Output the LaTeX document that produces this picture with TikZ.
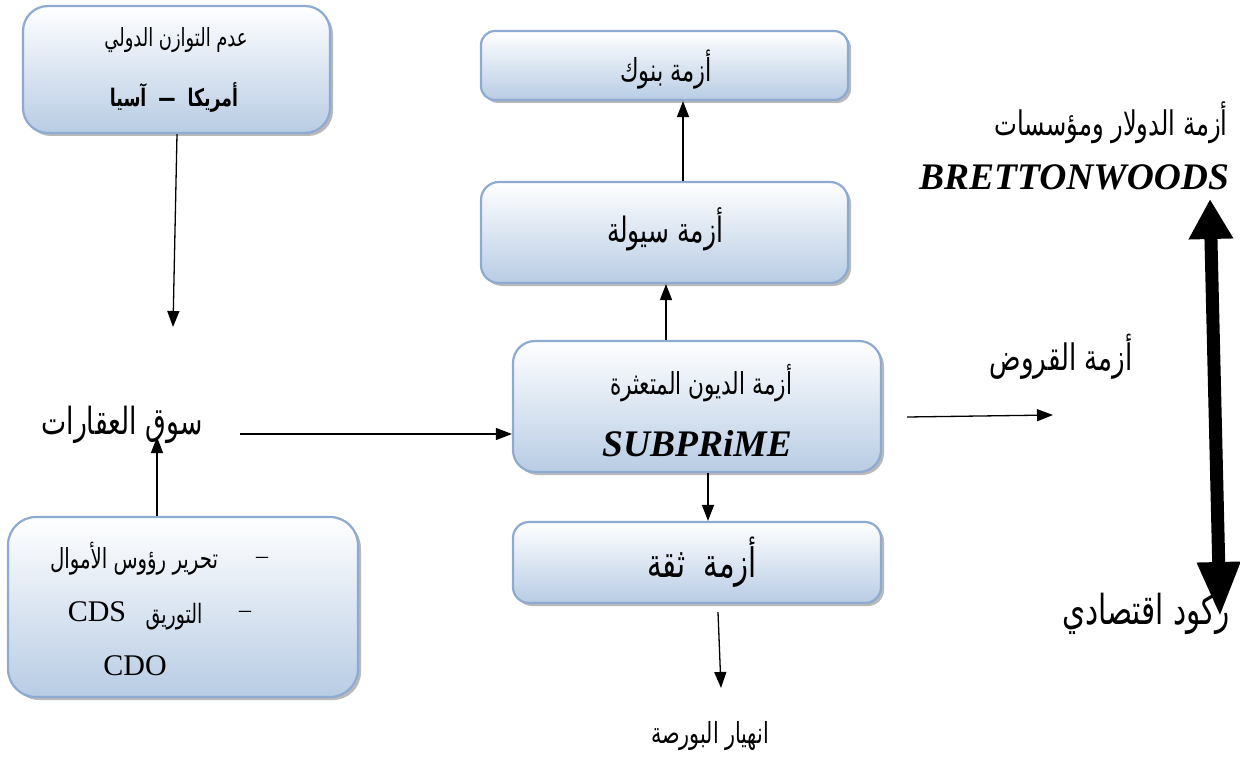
\documentclass[tikz,border=0pt]{standalone}
\usepackage{graphicx}
\usepackage{fontspec}
\setmainfont{Liberation Serif}
\newfontfamily\arabicfont[Script=Arabic]{DejaVu Sans}
\TeXXeTstate=1
\usetikzlibrary{arrows.meta,shadows}
\definecolor{boxline}{RGB}{140,170,210}
\definecolor{boxbot}{RGB}{184,204,228}
% #1 width, #2 text (already wrapped in \beginR ... \endR)
\newcommand{\AR}[2]{\scalebox{1}[1.4]{\resizebox{#1}{!}{\fontsize{20}{24}\arabicfont #2}}}
\newcommand{\ARB}[2]{\scalebox{1}[1.4]{\resizebox{#1}{!}{\fontsize{20}{24}\arabicfont\bfseries #2}}}
\begin{document}
\begin{tikzpicture}[x=1pt,y=-1pt,
  cbox/.style={draw=boxline, line width=2.2pt, top color=white, bottom color=boxbot,
    drop shadow={shadow xshift=3pt, shadow yshift=-3pt, fill=gray!55, opacity=1},
    inner sep=0pt},
  lbl/.style={inner sep=0pt},
  arr/.style={line width=1.3pt, -{Triangle[length=16pt,width=12pt]}},
  bigarr/.style={line width=13pt, {Triangle[length=40pt,width=42pt]}-{Triangle[length=55pt,width=40pt]}},
  lat/.style={inner sep=0pt, font=\fontsize{30}{34}\selectfont},
  latbi/.style={inner sep=0pt, font=\fontsize{37.5}{40}\selectfont\bfseries\itshape}
]
\useasboundingbox (0,0) rectangle (1240,762);

% boxes
\node[cbox, rounded corners=25pt, minimum width=307pt, minimum height=127pt] (tl) at (176.5,69.5) {};
\node[cbox, rounded corners=28pt, minimum width=350pt, minimum height=180pt] (bl) at (183,607) {};
\node[cbox, rounded corners=14pt, minimum width=367pt, minimum height=69pt] (bank) at (664.5,65.5) {};
\node[cbox, rounded corners=18pt, minimum width=367pt, minimum height=101pt] (liq) at (664.5,232.5) {};
\node[cbox, rounded corners=22pt, minimum width=368pt, minimum height=131pt] (sub) at (697,406.5) {};
\node[cbox, rounded corners=16pt, minimum width=368pt, minimum height=81pt] (trust) at (697,562.5) {};

% texts in boxes
\node[lbl] (tl1) at (176,40) {\AR{143pt}{\beginR عدم التوازن الدولي\endR}};
\node[lbl] (tl2) at (174,97.5) {\ARB{128pt}{\beginR أمريكا \ — \ آسيا\endR}};
\node[lbl] (d1) at (262,560) {\fontsize{24}{28}\selectfont –};
\node[lbl] (t1) at (134,559) {\AR{168pt}{\beginR تحرير رؤوس الأموال\endR}};
\node[lbl] (d2) at (245,614) {\fontsize{24}{28}\selectfont –};
\node[lbl] (t2) at (174,617) {\AR{57pt}{\beginR التوريق\endR}};
\node[lat] (cds) at (97,612) {CDS};
\node[lat] (cdo) at (135,666) {CDO};
\node[lbl] (bankt) at (666,70) {\AR{92pt}{\beginR أزمة بنوك\endR}};
\node[lbl] (liqt) at (665,229) {\AR{116pt}{\beginR أزمة سيولة\endR}};
\node[lbl] (subt) at (701,383) {\AR{182pt}{\beginR أزمة الديون المتعثرة\endR}};
\node[latbi] (subl) at (697,444) {SUBPRiME};
\node[lbl] (trustt) at (702,562) {\AR{110pt}{\beginR أزمة \ ثقة\endR}};

% free labels
\node[lbl] (souq) at (122,425) {\AR{161pt}{\beginR سوق العقارات\endR}};
\node[lbl] (qurud) at (1061,357) {\AR{143pt}{\beginR أزمة القروض\endR}};
\node[lbl] (dollar) at (1111,123) {\AR{233pt}{\beginR أزمة الدولار ومؤسسات\endR}};
\node[latbi] (bw) at (1074,177) {BRETTONWOODS};
\node[lbl] (rukud) at (1146,614) {\AR{168pt}{\beginR ركود اقتصادي\endR}};
\node[lbl] (crash) at (710,736) {\AR{118pt}{\beginR انهيار البورصة\endR}};

% connectors
\coordinate (c1) at (173,327);
\draw[arr] ([xshift=0.5pt]tl.south) -- (c1);
\coordinate (c2) at (157,437);
\draw[arr] (bl.north -| c2) -- (c2);
\coordinate (c3) at (240,434);
\draw[arr] (c3) -- (c3 -| sub.west);
\draw[arr] ([xshift=-31pt]sub.north) -- ([xshift=1.5pt]liq.south);
\draw[arr] ([xshift=18.5pt]liq.north) -- ([xshift=18.5pt]bank.south);
\draw[arr] ([xshift=11pt]sub.south) -- ([xshift=11pt]trust.north);
\coordinate (c4) at (721,688);
\draw[arr] ([xshift=21pt,yshift=-8pt]trust.south) -- (c4);
\coordinate (c5) at (1053,415);
\draw[arr] ([xshift=25pt,yshift=-10.5pt]sub.east) -- (c5);
\coordinate (t1) at (1210,199);
\coordinate (t2) at (1220,617);
\draw[bigarr] (t1) -- (t2);
\end{tikzpicture}
\end{document}
